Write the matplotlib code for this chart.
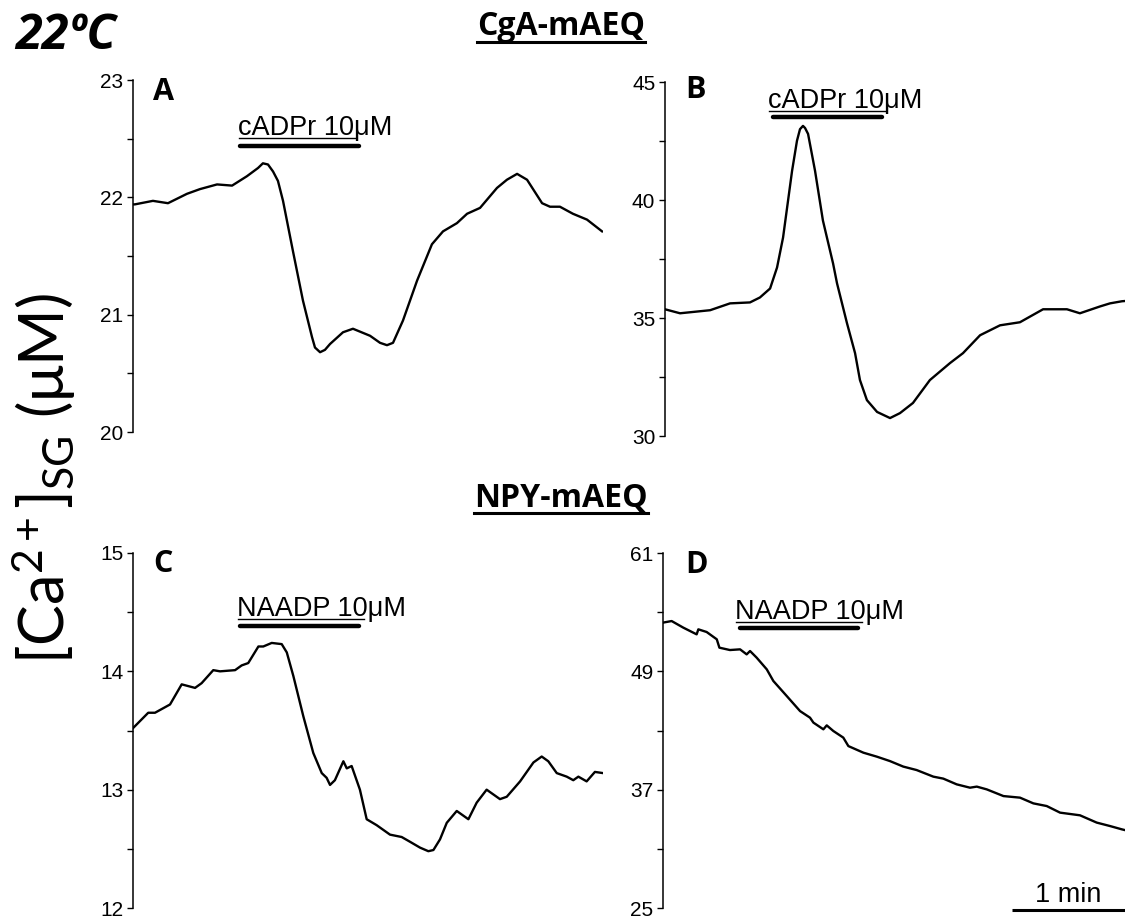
import matplotlib
matplotlib.use("Agg")
import matplotlib.pyplot as plt
from matplotlib.lines import Line2D

plt.rcParams['font.family'] = ['Liberation Sans', 'DejaVu Sans']
plt.rcParams['mathtext.fontset'] = 'custom'
plt.rcParams['mathtext.rm'] = 'Lato'
plt.rcParams['mathtext.it'] = 'Lato:italic'
plt.rcParams['mathtext.bf'] = 'Lato:bold'

# ---------------- data (time in s, concentration in uM) ----------------
t_a = [0, 1, 10.6, 18.6, 28.7, 35.6, 44.7, 52.7, 60.6, 66.5, 69.1, 71.8, 74.5, 77.1,
       79.8, 85.1, 90.4, 95.2, 96.8, 99.5, 102.1, 104.8, 111.7, 117.0, 126.1, 131.4,
       135.1, 138.3, 143.6, 151.1, 159.0, 164.9, 172.3, 177.7, 184.6, 193.6, 198.9,
       204.3, 209.6, 217.6, 221.8, 227.1, 234.0, 241.5, 249.5]
v_a = [21.94, 21.94, 21.97, 21.95, 22.03, 22.07, 22.11, 22.10, 22.18, 22.25, 22.29,
       22.28, 22.22, 22.14, 21.97, 21.54, 21.12, 20.81, 20.72, 20.68, 20.70, 20.75,
       20.85, 20.88, 20.82, 20.76, 20.74, 20.76, 20.95, 21.29, 21.60, 21.71, 21.78,
       21.86, 21.91, 22.08, 22.15, 22.20, 22.15, 21.95, 21.92, 21.92, 21.86, 21.81,
       21.71]

t_b = [0, 8, 24, 34.6, 45.2, 50.5, 55.9, 59.6, 62.8, 67.6, 70.2, 71.8, 73.4, 74.5,
       76.1, 79.8, 84.0, 89.4, 91.5, 96.8, 101.1, 103.7, 107.4, 112.8, 119.7, 125.0,
       131.9, 140.9, 151.6, 158.5, 167.6, 178.2, 188.8, 201.1, 213.8, 220.7, 231.4,
       236.7, 243.1, 244.7]
v_b = [35.37, 35.20, 35.33, 35.62, 35.66, 35.87, 36.25, 37.14, 38.41, 41.24, 42.51,
       43.00, 43.14, 43.05, 42.80, 41.24, 39.13, 37.31, 36.47, 34.78, 33.51, 32.37,
       31.52, 31.02, 30.76, 30.97, 31.40, 32.37, 33.09, 33.51, 34.27, 34.69, 34.82,
       35.37, 35.37, 35.20, 35.49, 35.62, 35.71, 35.72]

t_c = [0, 8.1, 11.7, 19.7, 25.9, 33.0, 36.5, 42.7, 46.3, 54.3, 57.8, 61.3, 66.7, 69.3,
       73.8, 79.1, 81.8, 85.3, 90.6, 95.9, 100.4, 103.0, 104.8, 107.4, 111.9, 113.7,
       116.3, 120.7, 124.3, 129.6, 136.7, 142.9, 147.3, 152.7, 157.1, 159.8, 163.3,
       166.9, 172.2, 178.4, 182.8, 188.1, 195.2, 198.8, 205.9, 213.0, 217.4, 220.9,
       225.4, 230.7, 234.2, 236.9, 241.3, 245.7, 250.0]
v_c = [13.52, 13.65, 13.65, 13.72, 13.89, 13.86, 13.90, 14.01, 14.00, 14.01, 14.05,
       14.07, 14.21, 14.21, 14.24, 14.23, 14.16, 13.96, 13.62, 13.31, 13.14, 13.10,
       13.04, 13.08, 13.24, 13.18, 13.20, 13.00, 12.75, 12.70, 12.62, 12.60, 12.56,
       12.51, 12.48, 12.49, 12.58, 12.72, 12.82, 12.75, 12.89, 13.00, 12.92, 12.94,
       13.07, 13.23, 13.28, 13.24, 13.14, 13.11, 13.08, 13.11, 13.07, 13.15, 13.14]

t_d = [0, 4.6, 10.8, 17.9, 18.8, 23.2, 28.6, 30.0, 35.6, 41.0, 44.5, 46.3, 49.8, 55.2,
       58.7, 65.8, 72.9, 78.2, 80.0, 85.3, 87.1, 90.6, 95.9, 98.6, 106.6, 113.7,
       120.7, 127.8, 134.9, 143.8, 149.1, 156.2, 163.3, 166.9, 172.2, 181.1, 189.9,
       197.0, 204.1, 211.2, 221.8, 230.7, 237.8, 244.0, 245.7]
v_d = [53.94, 54.10, 53.43, 52.75, 53.26, 52.99, 52.25, 51.40, 51.16, 51.23, 50.72,
       51.06, 50.39, 49.20, 48.02, 46.50, 44.97, 44.30, 43.80, 43.12, 43.52, 42.95,
       42.28, 41.42, 40.75, 40.35, 39.90, 39.34, 38.99, 38.32, 38.12, 37.54, 37.20,
       37.31, 37.03, 36.35, 36.19, 35.61, 35.34, 34.67, 34.40, 33.66, 33.31, 32.98,
       32.90]

ylims = {'A': (20, 23), 'B': (30, 45), 'C': (12, 15), 'D': (25, 61)}
major = {'A': [20, 21, 22, 23], 'B': [30, 35, 40, 45], 'C': [12, 13, 14, 15], 'D': [25, 37, 49, 61]}
minor = {'A': [20.5, 21.5, 22.5], 'B': [32.5, 37.5, 42.5], 'C': [12.5, 13.5, 14.5], 'D': [31, 43, 55]}
stim_label = {'A': 'cADPr 10μM', 'B': 'cADPr 10μM', 'C': 'NAADP 10μM', 'D': 'NAADP 10μM'}
stim_bar = {'A': (57, 120), 'B': (57.4, 115.4), 'C': (57, 120), 'D': (41, 103.7)}
scale_bar_min = 1  # minutes

W, H = 1125, 918
fig = plt.figure(figsize=(W / 100, H / 100), dpi=100)

# layout in pixels: (left, right, top, bottom)
pix = {'A': (133, 603, 80, 432), 'B': (665, 1125, 82, 436),
       'C': (133, 603, 553, 908), 'D': (663, 1125, 553, 908)}
px_per_s = 1.88
data = {'A': (t_a, v_a), 'B': (t_b, v_b), 'C': (t_c, v_c), 'D': (t_d, v_d)}
axes = {}
for k, (l, r, tp, bt) in pix.items():
    ax = fig.add_axes([l / W, 1 - bt / H, (r - l) / W, (bt - tp) / H])
    axes[k] = ax
    t, v = data[k]
    ax.plot(t, v, color='black', lw=1.7, solid_joinstyle='round')
    ax.set_xlim(0, (r - l) / px_per_s)
    ax.set_ylim(*ylims[k])
    for s in ['top', 'right', 'bottom']:
        ax.spines[s].set_visible(False)
    ax.spines['left'].set_linewidth(1.1)
    ax.set_xticks([])
    ax.set_yticks(major[k])
    ax.set_yticks(minor[k], minor=True)
    ax.tick_params(axis='y', which='both', direction='out', length=4, width=1.0,
                   labelsize=15, pad=3)
    ax.patch.set_alpha(0)

# stimulus annotations: (text left t, text baseline v, underline v, bar v, underline end t)
ann_pos = {'A': (55.9, 22.53, 22.508, 22.44, 118.5),
           'B': (54.8, 43.90, 43.78, 43.52, 117.5),
           'C': (55.3, 14.47, 14.445, 14.38, 123.0),
           'D': (38.3, 54.27, 54.05, 53.36, 106.0)}
for k, ax in axes.items():
    tx, ty, uy, by, ue = ann_pos[k]
    ax.text(tx, ty, stim_label[k], fontsize=19.5, va='baseline', ha='left')
    ax.plot([tx + 0.5, ue], [uy, uy], color='black', lw=1.0, clip_on=False)
    ax.plot(list(stim_bar[k]), [by, by], color='black', lw=3.2,
            solid_capstyle='round', clip_on=False)

# panel letters
letter_pos = {'A': (0.043, 0.943), 'B': (0.0435, 0.955), 'C': (0.043, 0.946), 'D': (0.048, 0.944)}
for k, ax in axes.items():
    x, y = letter_pos[k]
    ax.text(x, y, k, transform=ax.transAxes, fontsize=22, fontweight='bold',
            family='Open Sans', va='baseline', ha='left')

# scale bar in panel D
axd = axes['D']
axd.plot([185.6, 185.6 + 60 * scale_bar_min], [24.8, 24.8], color='black', lw=2.2,
         clip_on=False, solid_capstyle='butt')
axd.text(185.6 + 30 * scale_bar_min, 25.6, '1 min', fontsize=19.5, ha='center', va='baseline')

# section titles (underlined)
titles = [('CgA-mAEQ', 35, 42), ('NPY-mAEQ', 507, 513)]
fig.canvas.draw()
renderer = fig.canvas.get_renderer()
for txt, base, ul in titles:
    tobj = fig.text(561 / W, 1 - base / H, txt, fontsize=23, fontweight='bold',
                    family='Open Sans', ha='center', va='baseline')
    bb = tobj.get_window_extent(renderer=renderer)
    fig.add_artist(Line2D([bb.x0 / W, bb.x1 / W], [1 - ul / H, 1 - ul / H],
                          transform=fig.transFigure, color='black', lw=2.2))

# temperature label
fig.text(15 / W, 1 - 49 / H, '22ºC', fontsize=35, fontweight='bold', style='italic',
         family='Open Sans', ha='left', va='baseline')

# y label
fig.text(44 / W, 1 - 478 / H, r'[Ca$^{2+}$]$_{\mathrm{SG}}$ (μM)', rotation=90,
         fontsize=44, family='Lato', ha='center', va='center')

fig.savefig('out.png', dpi=100)
